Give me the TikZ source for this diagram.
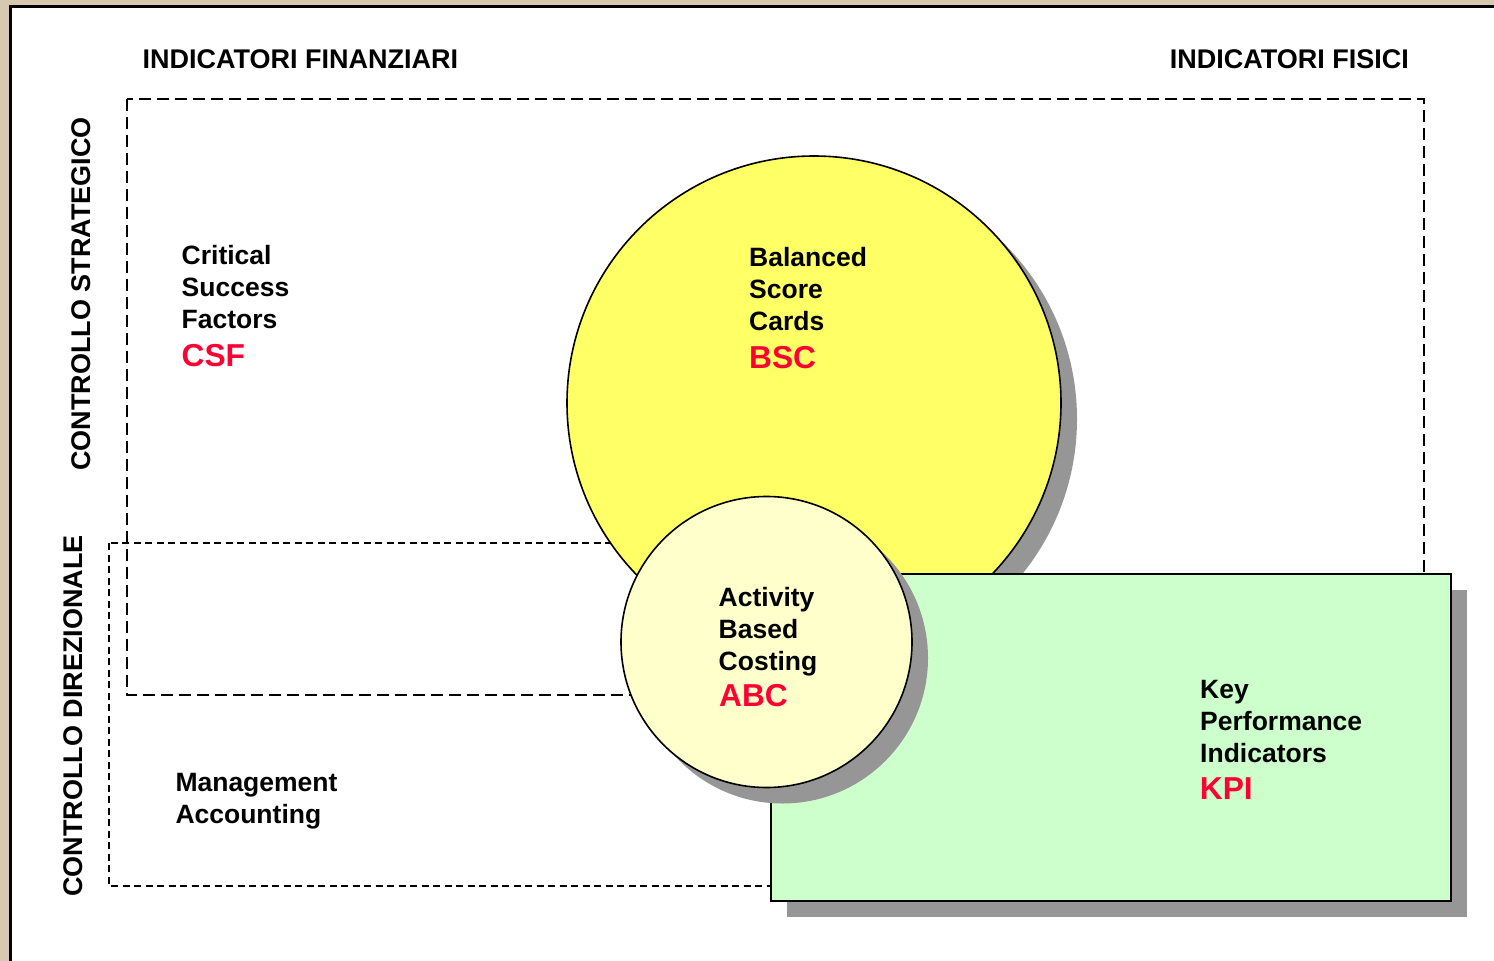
\documentclass[tikz,border=0pt]{standalone}
\usepackage{fontspec}
\setmainfont{Liberation Sans}
\definecolor{parch}{RGB}{214,201,176}
\definecolor{acrred}{RGB}{255,0,51}
\definecolor{shadowgray}{RGB}{150,150,150}
\definecolor{bscyellow}{RGB}{255,255,102}
\definecolor{abcyellow}{RGB}{255,255,204}
\definecolor{kpigreen}{RGB}{204,255,204}
\begin{document}
\begin{tikzpicture}[x=1pt,y=-1pt,
  txt/.style={font=\fontsize{26.5}{32}\selectfont\bfseries, align=left, inner sep=0pt, anchor=north west},
  acr/.style={font=\fontsize{31.7}{38}\selectfont\bfseries, text=acrred, inner sep=0pt, anchor=base west},
  ttl/.style={font=\fontsize{27}{32}\selectfont\bfseries, inner sep=0pt},
  outerbox/.style={draw=black, line width=1.9pt, dash pattern=on 12pt off 6pt},
  innerbox/.style={draw=black, line width=1.5pt, dash pattern=on 7pt off 4.5pt},
  shade/.style={fill=shadowgray},
  shapeline/.style={draw=black, line width=1.6pt}]
\useasboundingbox (0,0) rectangle (1494,961);
\fill[white] (0,0) rectangle (1494,961);
\fill[parch] (0,0) rectangle (1494,6);
\fill[parch] (0,0) rectangle (10,961);
\draw[line width=2.5pt] (10.5,961) -- (10.5,6.5) -- (1494,6.5);
% dashed zones
\draw[outerbox] (127,99) rectangle (1424,695);
\draw[innerbox] (109,543) rectangle (880,886);
% BSC circle
\fill[shade] (830,419) circle[radius=247pt];
\filldraw[shapeline, fill=bscyellow] (814,403) circle[radius=247pt];
% KPI rectangle
\fill[shade] (787,590) rectangle (1467,917);
\filldraw[draw=black, line width=2pt, fill=kpigreen] (771,574) rectangle (1451,901);
% ABC circle
\fill[shade] (782.5,658) circle[radius=145.5pt];
\filldraw[shapeline, fill=abcyellow] (766.5,642) circle[radius=145.5pt];
% titles
\node[ttl, anchor=base west] (finTitle) at (142.5,68) {INDICATORI FINANZIARI};
\node[ttl, anchor=base east] (fisTitle) at (1409,68) {INDICATORI FISICI};
\node[ttl, rotate=90, anchor=base] (strat) at (90,294) {CONTROLLO STRATEGICO};
\node[ttl, rotate=90, anchor=base] (dir) at (82,716) {CONTROLLO DIREZIONALE};
% blocks
\node[txt] (csfText) at (181.5,245) {Critical\\Success\\Factors};
\node[acr] (csf) at (181.5,366) {CSF};
\node[txt] (bscText) at (749,247) {Balanced\\Score\\Cards};
\node[acr] (bsc) at (749,368) {BSC};
\node[txt] (abcText) at (718.5,587) {Activity\\Based\\Costing};
\node[acr] (abc) at (719,706.5) {ABC};
\node[txt] (kpiText) at (1200,680) {Key\\Performance\\Indicators};
\node[acr] (kpi) at (1199.7,799) {KPI};
\node[txt] (maText) at (175.3,773.3) {Management\\Accounting};
\end{tikzpicture}
\end{document}
